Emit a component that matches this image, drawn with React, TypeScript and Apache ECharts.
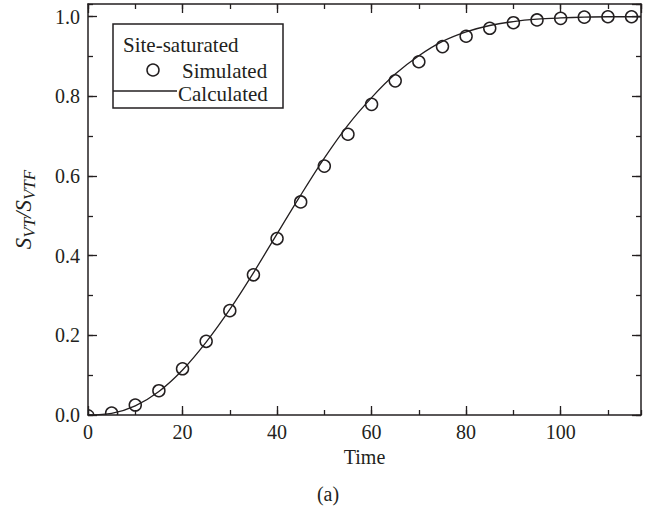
import React, { useEffect, useRef } from "react";
import * as echarts from "echarts";

const simTime = [0, 5, 10, 15, 20, 25, 30, 35, 40, 45, 50, 55, 60, 65, 70, 75, 80, 85, 90, 95, 100, 105, 110, 115];
const simValue = [-0.002, 0.005, 0.025, 0.061, 0.116, 0.185, 0.262, 0.352, 0.443, 0.535, 0.625, 0.705, 0.780, 0.839, 0.887, 0.925, 0.951, 0.971, 0.985, 0.992, 0.996, 0.999, 1.0, 1.0];

const calcTime = [0, 5, 10, 15, 20, 25, 30, 35, 40, 45, 50, 55, 60, 65, 70, 75, 80, 85, 90, 95, 100, 105, 110, 117];
const calcValue = [0, 0.004, 0.023, 0.059, 0.113, 0.183, 0.265, 0.357, 0.455, 0.552, 0.645, 0.728, 0.797, 0.856, 0.902, 0.938, 0.962, 0.978, 0.988, 0.994, 0.997, 0.999, 1.0, 1.0];

const xRange = [0, 117];
const yRange = [0, 1.032];

const INK = "#231f20";
const FONT = "Liberation Serif";

export default function App() {
  const ref = useRef<HTMLDivElement>(null);
  useEffect(() => {
    if (!ref.current) return;
    const chart = echarts.init(ref.current, undefined, { renderer: "svg" });
    const line = { color: INK, width: 1.5 };
    const tickLine = { color: INK, width: 1.3 };
    const xBase = { type: "value", min: xRange[0], max: xRange[1], splitLine: { show: false } };
    const yBase = { type: "value", min: yRange[0], max: yRange[1], splitLine: { show: false } };
    const txt = (text: string, x: number, y: number, size = 21, align = "left") => ({
      type: "text",
      x,
      y,
      z: 11,
      style: {
        text,
        fill: INK,
        fontFamily: FONT,
        fontSize: size,
        textAlign: align,
        textVerticalAlign: "middle",
      },
    });
    chart.setOption({
      animation: false,
      backgroundColor: "#fff",
      grid: { left: 88, right: 9, top: 4, bottom: 97, containLabel: false, outerBoundsMode: "none" },
      xAxis: [
        {
          ...xBase,
          position: "bottom",
          interval: 20,
          axisLine: { show: true, onZero: false, lineStyle: line },
          axisTick: { show: true, inside: true, length: 9, lineStyle: tickLine },
          axisLabel: { show: true, showMaxLabel: false, margin: 7, color: INK, fontFamily: FONT, fontSize: 20 },
          name: "Time",
          nameLocation: "middle",
          nameGap: 29,
          nameTextStyle: { color: INK, fontFamily: FONT, fontSize: 20 },
        },
        {
          ...xBase,
          position: "bottom",
          interval: 10,
          axisLine: { show: false, onZero: false },
          axisTick: { show: true, inside: true, length: 5, lineStyle: tickLine },
          axisLabel: { show: false },
        },
        {
          ...xBase,
          position: "top",
          interval: 20,
          axisLine: { show: true, onZero: false, lineStyle: line },
          axisTick: { show: true, inside: true, length: 9, lineStyle: tickLine },
          axisLabel: { show: false },
        },
        {
          ...xBase,
          position: "top",
          interval: 10,
          axisLine: { show: false, onZero: false },
          axisTick: { show: true, inside: true, length: 5, lineStyle: tickLine },
          axisLabel: { show: false },
        },
      ],
      yAxis: [
        {
          ...yBase,
          position: "left",
          interval: 0.2,
          axisLine: { show: true, onZero: false, lineStyle: line },
          axisTick: { show: true, inside: true, length: 9, lineStyle: tickLine },
          axisLabel: {
            show: true,
            showMaxLabel: false,
            margin: 8,
            color: INK,
            fontFamily: FONT,
            fontSize: 20,
            formatter: (v: number) => v.toFixed(1),
          },
          name: "{s|S}{sub|VT}{s|/S}{sub|VTF}",
          nameLocation: "middle",
          nameRotate: 90,
          nameGap: 50,
          nameTextStyle: {
            color: INK,
            fontFamily: FONT,
            rich: {
              s: { fontSize: 23, fontStyle: "italic", fontFamily: FONT, color: INK },
              sub: { fontSize: 17, fontStyle: "italic", fontFamily: FONT, color: INK, padding: [13, 0, 0, 0] },
            },
          },
        },
        {
          ...yBase,
          position: "left",
          interval: 0.1,
          axisLine: { show: false, onZero: false },
          axisTick: { show: true, inside: true, length: 5, lineStyle: tickLine },
          axisLabel: { show: false },
        },
        {
          ...yBase,
          position: "right",
          interval: 0.2,
          axisLine: { show: true, onZero: false, lineStyle: line },
          axisTick: { show: true, inside: true, length: 9, lineStyle: tickLine },
          axisLabel: { show: false },
        },
        {
          ...yBase,
          position: "right",
          interval: 0.1,
          axisLine: { show: false, onZero: false },
          axisTick: { show: true, inside: true, length: 5, lineStyle: tickLine },
          axisLabel: { show: false },
        },
      ],
      series: [
        {
          name: "Calculated",
          type: "line",
          xAxisIndex: 0,
          yAxisIndex: 0,
          data: calcTime.map((t, i) => [t, calcValue[i]]),
          smooth: 0.3,
          showSymbol: false,
          symbol: "none",
          clip: true,
          lineStyle: { color: INK, width: 1.3 },
        },
        {
          name: "Simulated",
          type: "custom",
          xAxisIndex: 0,
          yAxisIndex: 0,
          clip: true,
          data: simTime.map((t, i) => [t, simValue[i]]),
          encode: { x: 0, y: 1 },
          renderItem: (params: any, api: any) => {
            const p = api.coord([api.value(0), api.value(1)]);
            return {
              type: "circle",
              shape: { cx: p[0], cy: p[1], r: 6 },
              style: { fill: "none", stroke: INK, lineWidth: 1.5 },
            };
          },
        },
      ],
      graphic: [
        {
          type: "rect",
          shape: { x: 113, y: 24, width: 170, height: 84 },
          style: { fill: "#fff", stroke: INK, lineWidth: 1.5 },
          z: 10,
        },
        txt("Site-saturated", 123, 45),
        {
          type: "circle",
          shape: { cx: 153, cy: 70, r: 6 },
          style: { fill: "none", stroke: INK, lineWidth: 1.5 },
          z: 11,
        },
        txt("Simulated", 182, 71),
        {
          type: "line",
          shape: { x1: 113, y1: 91, x2: 177, y2: 91 },
          style: { stroke: INK, lineWidth: 1.6 },
          z: 11,
        },
        txt("Calculated", 178, 94),
        txt("(a)", 328, 494, 20, "center"),
      ],
    });
    return () => chart.dispose();
  }, []);
  return <div ref={ref} style={{ position: "fixed", left: 0, top: 0, width: 650, height: 512 }} />;
}
